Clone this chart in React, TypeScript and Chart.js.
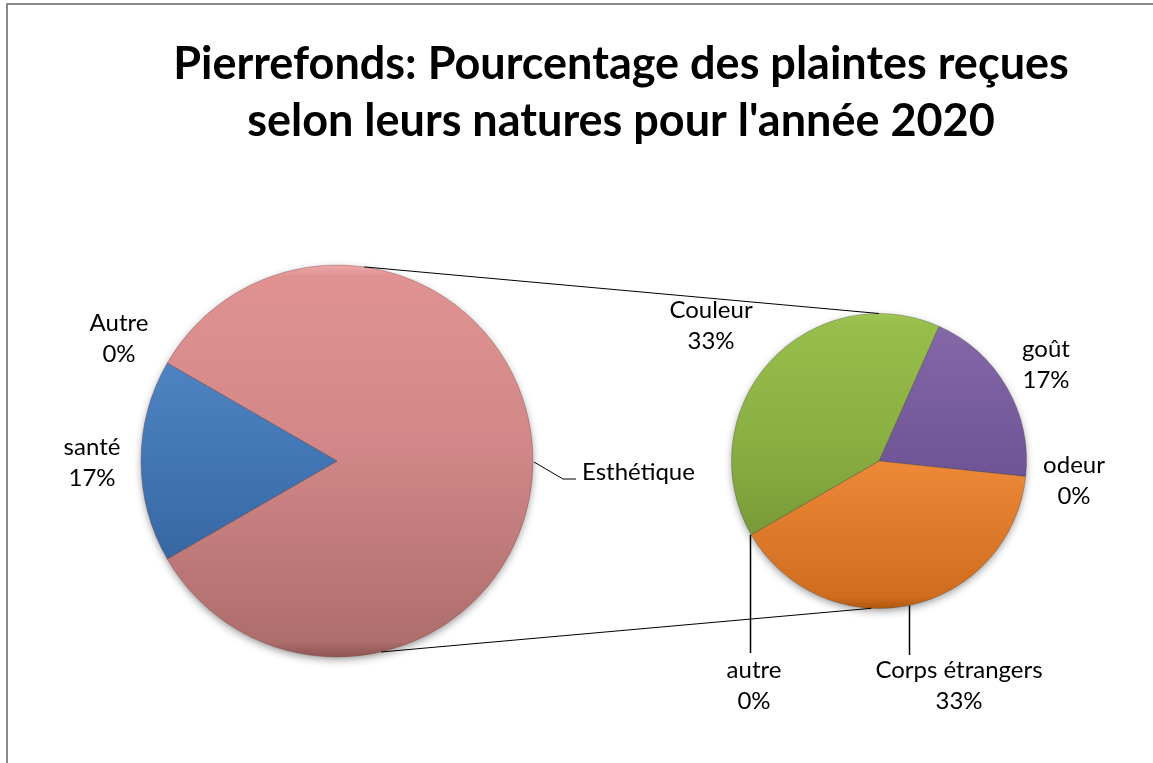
import React, { useEffect, useRef } from 'react';
import { Chart, registerables } from 'chart.js';

Chart.register(...registerables);

// ---------- data ----------
const titleLines = ["Pierrefonds: Pourcentage des plaintes reçues", "selon leurs natures pour l'année 2020"];
const mainLabels = ['Esthétique', 'santé', 'Autre'];
const mainOtherValues = [1, 0]; // santé, Autre
const subLabels = ['goût', 'odeur', 'Corps étrangers', 'autre', 'Couleur'];
const subValues = [1, 0, 2, 0, 2];

// ---------- styles ----------
const FONT = 'Lato, "Open Sans", sans-serif';
const LABEL_SIZE = 24;
const LINE_H = 31;
const MAIN_R = 196;
const SUB_R = 147.5;

type Stops = [number, string][];
const mainStops: Stops[] = [
  [[0, '#EDA6A6'], [0.03, '#E09292'], [0.45, '#D28888'], [0.96, '#AE6E6C'], [1, '#8E5452']],
  [[0, '#6A9FDC'], [0.03, '#5A90D0'], [0.45, '#4478B6'], [0.96, '#2E5C96'], [1, '#244C80']],
  [[0, '#EDA6A6'], [1, '#AE6E6C']],
];
const subStops: Stops[] = [
  [[0, '#957CB8'], [0.03, '#8468A8'], [0.45, '#735899'], [0.96, '#56427C'], [1, '#463468']],
  [[0, '#957CB8'], [1, '#56427C']],
  [[0, '#FFB472'], [0.03, '#FA9E4C'], [0.45, '#F08C3A'], [0.96, '#D06C1E'], [1, '#B05810']],
  [[0, '#A8CC66'], [1, '#6E8E30']],
  [[0, '#A2C656'], [0.03, '#98BE4C'], [0.45, '#8AAE42'], [0.96, '#6C8C30'], [1, '#587428']],
];

const mainLabelPos = [
  { dx: 245, dy: 19, align: 'left', pct: false },
  { dx: -245, dy: -6, align: 'center', pct: true },
  { dx: -218, dy: -130, align: 'center', pct: true },
];
const subLabelPos = [
  { dx: 167, dy: -104 },
  { dx: 195, dy: 12 },
  { dx: 80, dy: 217 },
  { dx: -125, dy: 217 },
  { dx: -168, dy: -143 },
];

const gradFor = (stopsList: Stops[], radius: number) => (c: any) => {
  const stops = stopsList[c.dataIndex];
  const ca = c.chart.chartArea;
  if (!ca) return stops[1][1];
  const cy = (ca.top + ca.bottom) / 2;
  const g = c.chart.ctx.createLinearGradient(0, cy - radius, 0, cy + radius);
  stops.forEach(([o, col]) => g.addColorStop(o, col));
  return g;
};

const shadowPlugin = {
  id: 'pieShadow',
  beforeDatasetsDraw(chart: any) {
    const el = chart.getDatasetMeta(0).data[0];
    if (!el) return;
    const ctx = chart.ctx;
    ctx.save();
    ctx.shadowColor = 'rgba(0,0,0,0.45)';
    ctx.shadowBlur = 8;
    ctx.shadowOffsetY = 3;
    ctx.beginPath();
    ctx.arc(el.x, el.y, el.outerRadius - 1, 0, Math.PI * 2);
    ctx.fillStyle = '#999';
    ctx.fill();
    ctx.restore();
  },
};

const drawLabel = (ctx: CanvasRenderingContext2D, lines: string[], x: number, y: number, align: CanvasTextAlign) => {
  ctx.save();
  ctx.font = `${LABEL_SIZE}px ${FONT}`;
  ctx.fillStyle = '#000';
  ctx.textAlign = align;
  ctx.textBaseline = 'alphabetic';
  lines.forEach((l, i) => ctx.fillText(l, x, y + i * LINE_H));
  ctx.restore();
};

export default function App() {
  const refA = useRef<HTMLCanvasElement>(null);
  const refB = useRef<HTMLCanvasElement>(null);

  useEffect(() => {
    const esth = subValues.reduce((a, b) => a + b, 0);
    const mainValues = [esth, ...mainOtherValues];
    const total = mainValues.reduce((a, b) => a + b, 0);
    const pct = (v: number) => `${Math.round((v / total) * 100)}%`;

    const mainLabelPlugin = {
      id: 'mainLabels',
      afterDatasetsDraw(chart: any) {
        const meta = chart.getDatasetMeta(0);
        const el = meta.data[0];
        const cx = el.x, cy = el.y, r = el.outerRadius;
        const ctx = chart.ctx;
        mainLabels.forEach((lab, i) => {
          const p = mainLabelPos[i];
          const lines = p.pct ? [lab, pct(mainValues[i])] : [lab];
          drawLabel(ctx, lines, cx + p.dx, cy + p.dy, p.align as CanvasTextAlign);
        });
        // leader for Esthétique
        ctx.save();
        ctx.strokeStyle = '#000';
        ctx.lineWidth = 1;
        ctx.beginPath();
        ctx.moveTo(cx + r + 1, cy + 1);
        ctx.lineTo(cx + r + 30, cy + 18);
        ctx.lineTo(cx + r + 43, cy + 18);
        ctx.stroke();
        ctx.restore();
      },
    };

    const chartA = new Chart(refA.current!, {
      type: 'pie',
      data: {
        labels: mainLabels,
        datasets: [{
          data: mainValues,
          backgroundColor: gradFor(mainStops, MAIN_R) as any,
          borderWidth: 1,
          borderColor: 'rgba(120,60,60,0.35)',
          radius: MAIN_R,
          rotation: -60,
        } as any],
      },
      options: {
        responsive: false,
        animation: false,
        events: [],
        layout: { padding: { left: 0, right: 479, top: 159, bottom: 0 } },
        plugins: { legend: { display: false }, tooltip: { enabled: false }, title: { display: false } },
      },
      plugins: [shadowPlugin, mainLabelPlugin],
    });

    const subPlugin = {
      id: 'subLabels',
      afterDatasetsDraw(chart: any) {
        const meta = chart.getDatasetMeta(0);
        const el = meta.data[0];
        const cx = el.x, cy = el.y, r = el.outerRadius;
        const ctx = chart.ctx;
        subLabels.forEach((lab, i) => {
          const p = subLabelPos[i];
          drawLabel(ctx, [lab, pct(subValues[i])], cx + p.dx, cy + p.dy, 'center');
        });
        ctx.save();
        ctx.strokeStyle = '#000';
        ctx.lineWidth = 1.5;
        // leader for autre (at boundary of zero slice)
        const autreEl = meta.data[3];
        const ax = cx + r * Math.cos(autreEl.startAngle);
        const ay = cy + r * Math.sin(autreEl.startAngle);
        ctx.beginPath();
        ctx.moveTo(Math.round(ax) - 0.5, ay);
        ctx.lineTo(Math.round(ax) - 0.5, cy + 192);
        ctx.stroke();
        // leader for Corps étrangers
        const kx = cx + 30;
        const ky = cy + Math.sqrt(r * r - 30 * 30);
        ctx.beginPath();
        ctx.moveTo(Math.round(kx) + 0.5, ky);
        ctx.lineTo(Math.round(kx) + 0.5, cy + 194);
        ctx.stroke();
        // connector lines from main pie
        const m = chartA.getDatasetMeta(0).data[0] as any;
        const d = Math.PI / 180;
        ctx.lineWidth = 1;
        ctx.beginPath();
        ctx.moveTo(m.x + m.outerRadius * Math.cos(-82 * d), m.y + m.outerRadius * Math.sin(-82 * d));
        ctx.lineTo(cx + r * Math.cos(-90 * d), cy + r * Math.sin(-90 * d));
        ctx.moveTo(m.x + m.outerRadius * Math.cos(77 * d), m.y + m.outerRadius * Math.sin(77 * d));
        ctx.lineTo(cx + r * Math.cos(93 * d), cy + r * Math.sin(93 * d));
        ctx.stroke();
        ctx.restore();
        // title
        ctx.save();
        ctx.font = `bold 45px ${FONT}`;
        ctx.fillStyle = '#000';
        ctx.textAlign = 'center';
        ctx.textBaseline = 'alphabetic';
        ctx.fillText(titleLines[0], 621, 79);
        ctx.fillText(titleLines[1], 621, 136);
        ctx.restore();
      },
    };

    const chartB = new Chart(refB.current!, {
      type: 'pie',
      data: {
        labels: subLabels,
        datasets: [{
          data: subValues,
          backgroundColor: gradFor(subStops, SUB_R) as any,
          borderWidth: 1,
          borderColor: 'rgba(60,60,60,0.3)',
          radius: SUB_R,
          rotation: 24,
        } as any],
      },
      options: {
        responsive: false,
        animation: false,
        events: [],
        layout: { padding: { left: 605, right: 0, top: 159, bottom: 0 } },
        plugins: { legend: { display: false }, tooltip: { enabled: false }, title: { display: false } },
      },
      plugins: [shadowPlugin, subPlugin],
    });

    return () => {
      chartB.destroy();
      chartA.destroy();
    };
  }, []);

  return (
    <div style={{ position: 'fixed', left: 0, top: 0, width: 1153, height: 763, overflow: 'hidden', background: '#fff' }}>
      <div style={{ position: 'absolute', left: 6, top: 3, width: 1300, height: 900, borderLeft: '2px solid #8a8a8a', borderTop: '2px solid #8a8a8a' }} />
      <canvas ref={refA} width={1153} height={763} style={{ position: 'absolute', left: 0, top: 0 }} />
      <canvas ref={refB} width={1153} height={763} style={{ position: 'absolute', left: 0, top: 0 }} />
    </div>
  );
}
